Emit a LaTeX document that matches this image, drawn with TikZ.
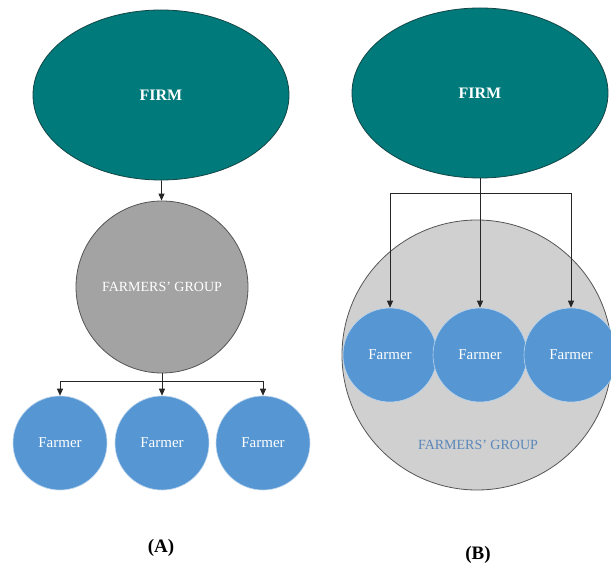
\documentclass[tikz,border=0pt]{standalone}
\usepackage{fontspec}
\setmainfont{Liberation Serif}
\usetikzlibrary{arrows.meta,shapes.geometric}

\definecolor{firmteal}{RGB}{0,122,122}
\definecolor{firmedge}{RGB}{20,70,70}
\definecolor{groupdark}{RGB}{163,163,163}
\definecolor{grouplight}{RGB}{208,208,208}
\definecolor{groupedge}{RGB}{85,85,85}
\definecolor{farmerblue}{RGB}{86,150,210}
\definecolor{grouptext}{RGB}{90,135,185}

\tikzset{
  firm/.style={ellipse, draw=firmedge, fill=firmteal, line width=0.8pt,
    minimum width=256pt, minimum height=170pt, text=white,
    font=\fontsize{16}{19}\selectfont\bfseries},
  group/.style={circle, draw=groupedge, line width=0.8pt,
    font=\fontsize{14}{17}\selectfont},
  farmer/.style={circle, draw=white!60!farmerblue, fill=farmerblue,
    line width=0.6pt, minimum size=94pt, inner sep=0pt, text=white,
    font=\fontsize{15}{18}\selectfont},
  caption/.style={font=\fontsize{19}{22}\selectfont\bfseries},
  link/.style={draw=black!85, line width=0.9pt},
  >={Triangle[width=6pt,length=7pt]}
}

\begin{document}
\begin{tikzpicture}[x=1pt,y=-1pt]
    \useasboundingbox[fill=white] (0,0) rectangle (611,569);
    % (A): the group between firm and farmers
    \node [firm] (firmA) at (161,95) {FIRM};
    \node [group, fill=groupdark, minimum size=172pt, text=white] (groupA) at (162,287) {FARMERS' GROUP};
    \node [farmer] (farmerA1) at (60,443) {Farmer};
    \node [farmer] (farmerA2) at (162,443) {Farmer};
    \node [farmer] (farmerA3) at (263,443) {Farmer};
    \draw [link,->] (firmA) -- (groupA);
    \coordinate (busA) at (162,381);
    \draw [link] (groupA.south) -- (busA);
    \draw [link,->] (busA) -| (farmerA1.north);
    \draw [link,->] (busA) -- (farmerA2.north);
    \draw [link,->] (busA) -| (farmerA3.north);
    \node [caption] (labelA) at (161,548) {(A)};
    % (B): the farmers inside the group
    \node [firm] (firmB) at (480,93) {FIRM};
    \node [group, fill=grouplight, minimum size=270pt] (groupB) at (477,355) {};
    \node [text=grouptext, font=\fontsize{14}{17}\selectfont] (groupBtext) at (478,445) {FARMERS' GROUP};
    \node [farmer] (farmerB1) at (390,355) {Farmer};
    \node [farmer] (farmerB2) at (480,355) {Farmer};
    \node [farmer] (farmerB3) at (571,355) {Farmer};
    \coordinate (busB) at (480,193);
    \draw [link] (firmB.south) -- (busB);
    \draw [link,->] (busB) -| (farmerB1.north);
    \draw [link,->] (busB) -- (farmerB2.north);
    \draw [link,->] (busB) -| (farmerB3.north);
    \node [caption] (labelB) at (478,555) {(B)};
\end{tikzpicture}
\end{document}
